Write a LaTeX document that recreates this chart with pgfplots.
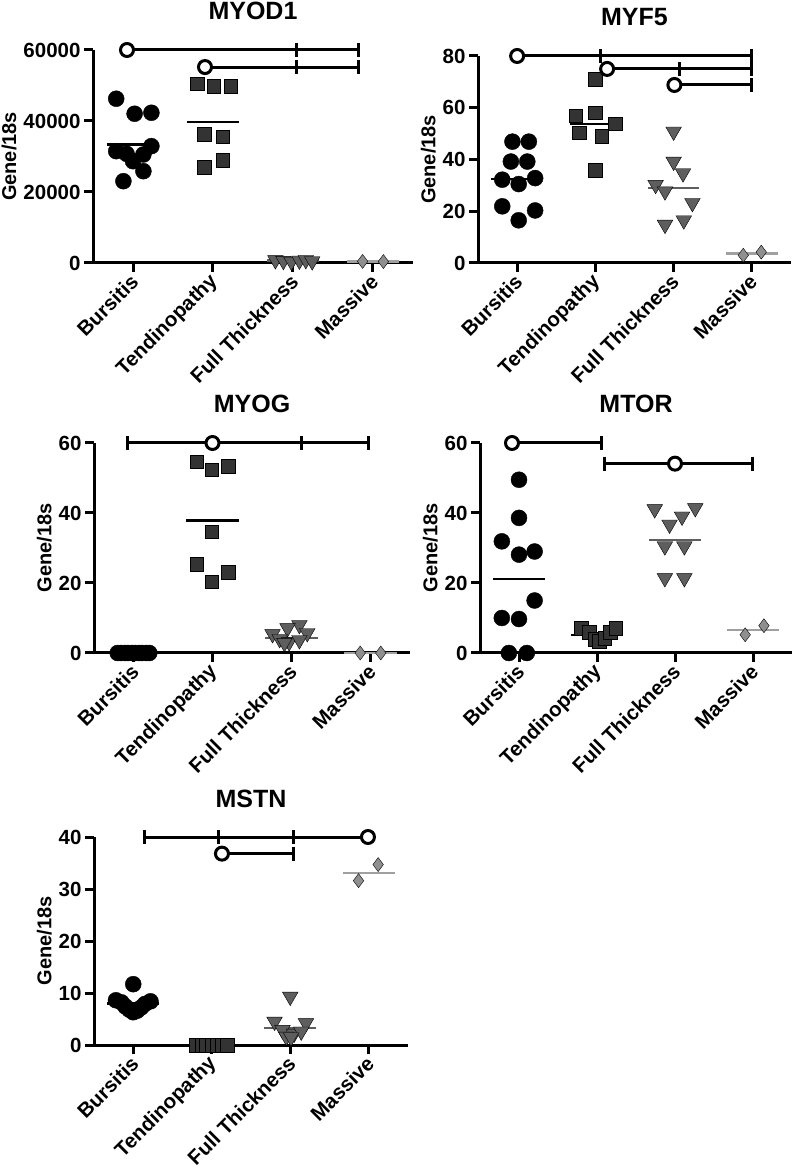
\documentclass[border=0pt]{standalone}
\usepackage{fontspec}
\setmainfont{Liberation Sans}
\usepackage{pgfplots}
\pgfplotsset{compat=1.18}

\definecolor{cten}{HTML}{333333}
\definecolor{cful}{HTML}{5E5E5E}
\definecolor{cmas}{HTML}{8F8F8F}
\definecolor{lmas}{HTML}{A0A0A0}

\pgfplotsset{
  panel/.style={
    scale only axis, clip=false, anchor=south west,
    axis x line*=bottom, axis y line*=left,
    axis line style={line width=3pt},
    tick style={line width=3pt, black},
    tick align=outside, major tick length=9pt,
    xmin=0.5, xmax=4.5, ymin=0,
    xtick={1,2,3,4},
    xticklabels={Bursitis,Tendinopathy,Full Thickness,Massive},
    xticklabel style={xshift=4pt, yshift=-4pt, rotate=45, anchor=east, font=\fontsize{20.5}{24}\selectfont\bfseries},
    yticklabel style={font=\fontsize{20.5}{24}\selectfont\bfseries},
    /pgf/number format/assume math mode=true,
    /pgf/number format/set thousands separator={},
    scaled y ticks=false,
    ylabel={Gene/18s},
    ylabel style={font=\fontsize{20}{24}\selectfont\bfseries},
    title style={font=\fontsize{25}{30}\selectfont\bfseries, anchor=base, inner sep=1pt, yshift=24pt},
  },
  bur/.style={only marks, mark=*, mark size=8pt, mark options={draw=none, fill=black}},
  ten/.style={only marks, mark=square*, mark size=6.8pt, mark options={draw=none, fill=cten}},
  ful/.style={only marks, mark=triangle*, mark size=9pt, mark options={rotate=180, draw=none, fill=cful}},
  mas/.style={only marks, mark=diamond*, mark size=7pt, mark options={draw=none, fill=cmas}},
  mean/.style={no marks, line width=2.5pt},
  sig/.style={no marks, line width=3pt, black},
  sigt/.style={only marks, mark=|, mark size=7pt, mark options={line width=3pt, black}},
  sigo/.style={only marks, mark=*, mark size=6.5pt, mark options={fill=white, draw=black, line width=3pt}},
}

\begin{document}
\begin{tikzpicture}
\useasboundingbox (0,0) rectangle (797pt,1170pt);

% MYOD1
\begin{axis}[panel, at={(93pt,907pt)}, width=320pt, height=213pt,
  ymax=60000, ytick={0,20000,40000,60000}, title={MYOD1}]
  \addplot[bur] coordinates {(0.79,46270)(1.02,42040)(1.23,42320)(1.23,32915)(0.79,31500)
    (0.92,30750)(1.0,28680)(1.13,30565)(1.13,25860)(0.88,23040)};
  \addplot[mean, black] coordinates {(0.67,33390)(1.33,33390)};
  \addplot[ten] coordinates {(1.80,50500)(2.01,49840)(2.22,49840)(1.89,36200)(2.12,35550)(2.12,28960)(1.89,26990)};
  \addplot[mean, black] coordinates {(1.67,39690)(2.33,39690)};
  \addplot[ful] coordinates {(2.78,800)(2.88,600)(2.98,400)(3.08,700)(3.16,850)(3.24,500)};
  \addplot[mean, cful] coordinates {(2.67,640)(3.33,640)};
  \addplot[mas] coordinates {(3.87,450)(4.13,400)};
  \addplot[mean, lmas] coordinates {(3.67,425)(4.33,425)};
  \addplot[sig] coordinates {(0.925,60000)(3.825,60000)};
  \addplot[sigt] coordinates {(3.05,60000)(3.825,60000)};
  \addplot[sigo] coordinates {(0.925,60000)};
  \addplot[sig] coordinates {(1.9,55200)(3.825,55200)};
  \addplot[sigt] coordinates {(3.05,55200)(3.825,55200)};
  \addplot[sigo] coordinates {(1.9,55200)};
\end{axis}

% MYF5
\begin{axis}[panel, at={(478pt,907pt)}, width=313pt, height=207pt,
  ymax=80, ytick={0,20,40,60,80}, title={MYF5}]
  \addplot[bur] coordinates {(0.94,46.9)(1.15,46.9)(0.92,39.2)(1.13,39.2)(0.81,32.2)
    (1.02,30.5)(1.23,32.8)(0.81,21.9)(1.23,20.3)(1.02,16.5)};
  \addplot[mean, black] coordinates {(0.67,32.5)(1.33,32.5)};
  \addplot[ten] coordinates {(2.0,71.0)(1.75,57.0)(2.0,58.1)(2.25,53.8)(1.79,50.4)(2.08,49.1)(2.0,35.8)};
  \addplot[mean, black] coordinates {(1.67,53.8)(2.33,53.8)};
  \addplot[ful] coordinates {(3.0,50.8)(3.0,39.2)(3.12,34.7)(2.77,30.2)(2.89,27.7)(3.24,23.2)(2.89,14.8)(3.13,16.5)};
  \addplot[mean, cful] coordinates {(2.67,28.9)(3.33,28.9)};
  \addplot[mas] coordinates {(3.89,3.0)(4.12,4.2)};
  \addplot[mean, lmas] coordinates {(3.67,3.6)(4.33,3.6)};
  \addplot[sig] coordinates {(1.0,80)(3.99,80)};
  \addplot[sigt] coordinates {(2.06,80)(3.99,80)};
  \addplot[sigo] coordinates {(1.0,80)};
  \addplot[sig] coordinates {(2.15,75)(3.99,75)};
  \addplot[sigt] coordinates {(3.08,75)(3.99,75)};
  \addplot[sigo] coordinates {(2.15,75)};
  \addplot[sig] coordinates {(3.01,68.8)(3.99,68.8)};
  \addplot[sigt] coordinates {(3.99,68.8)};
  \addplot[sigo] coordinates {(3.01,68.8)};
\end{axis}

% MYOG
\begin{axis}[panel, at={(94pt,517pt)}, width=316pt, height=210pt,
  ymax=60, ytick={0,20,40,60}, title={MYOG}]
  \addplot[bur] coordinates {(0.80,0)(0.84,0)(0.89,0)(0.93,0)(0.98,0)(1.02,0)(1.07,0)(1.11,0)(1.16,0)(1.20,0)};
  \addplot[mean, black] coordinates {(0.67,0)(1.33,0)};
  \addplot[ten] coordinates {(1.80,54.6)(1.99,52.4)(2.2,53.4)(1.99,34.7)(1.80,25.4)(2.2,23.1)(1.99,20.4)};
  \addplot[mean, black] coordinates {(1.67,37.8)(2.33,37.8)};
  \addplot[ful] coordinates {(3.10,8.0)(2.76,5.4)(2.95,7.1)(3.2,5.7)(2.85,4.0)(2.97,3.1)(2.91,2.9)(3.10,3.7)};
  \addplot[mean, cful] coordinates {(2.67,4.3)(3.33,4.3)};
  \addplot[mas] coordinates {(3.87,0)(4.13,0)};
  \addplot[mean, lmas] coordinates {(3.67,0)(4.33,0)};
  \addplot[sig] coordinates {(0.93,60)(3.98,60)};
  \addplot[sigt] coordinates {(0.93,60)(3.13,60)(3.98,60)};
  \addplot[sigo] coordinates {(2.0,60)};
\end{axis}

% MTOR
\begin{axis}[panel, at={(480pt,517pt)}, width=312pt, height=210pt,
  ymax=60, ytick={0,20,40,60}, title={MTOR}]
  \addplot[bur] coordinates {(1.0,49.5)(1.0,38.6)(0.78,31.9)(1.0,28.1)(1.2,29.0)(1.2,15.0)
    (0.78,10.0)(1.0,9.7)(0.87,0)(1.1,0)};
  \addplot[mean, black] coordinates {(0.67,21.2)(1.33,21.2)};
  \addplot[ten] coordinates {(1.8,7.0)(1.9,6.0)(1.97,4.0)(2.03,3.3)(2.1,4.2)(2.17,6.0)(2.24,7.0)};
  \addplot[mean, black] coordinates {(1.67,5.2)(2.33,5.2)};
  \addplot[ful] coordinates {(2.74,41.1)(3.26,41.4)(3.09,39.0)(2.93,36.7)(2.87,30.5)(3.12,30.5)(2.87,21.4)(3.12,21.4)};
  \addplot[mean, cful] coordinates {(2.67,32.3)(3.33,32.3)};
  \addplot[mas] coordinates {(3.9,5.2)(4.14,7.8)};
  \addplot[mean, lmas] coordinates {(3.67,6.5)(4.33,6.5)};
  \addplot[sig] coordinates {(0.91,60)(2.06,60)};
  \addplot[sigt] coordinates {(2.06,60)};
  \addplot[sigo] coordinates {(0.91,60)};
  \addplot[sig] coordinates {(2.09,54.1)(3.99,54.1)};
  \addplot[sigt] coordinates {(2.09,54.1)(3.99,54.1)};
  \addplot[sigo] coordinates {(3.0,54.1)};
\end{axis}

% MSTN
\begin{axis}[panel, at={(94pt,125pt)}, width=314pt, height=208pt,
  ymax=40, ytick={0,10,20,30,40}, title={MSTN}]
  \addplot[bur] coordinates {(1.0,11.7)(0.78,8.6)(0.85,8.2)(0.9,7.4)(0.95,6.8)(1.0,6.3)
    (1.05,6.6)(1.1,7.2)(1.15,7.9)(1.22,8.4)};
  \addplot[mean, black] coordinates {(0.67,8.0)(1.33,8.0)};
  \addplot[ten] coordinates {(1.80,0)(1.87,0)(1.93,0)(2.0,0)(2.07,0)(2.13,0)(2.20,0)};
  \addplot[mean, black] coordinates {(1.67,0)(2.33,0)};
  \addplot[ful] coordinates {(3.0,9.3)(2.8,4.5)(3.2,4.2)(2.9,2.9)(3.05,2.2)(2.95,1.6)(3.14,2.6)(3.01,1.5)};
  \addplot[mean, cful] coordinates {(2.67,3.3)(3.33,3.3)};
  \addplot[mas] coordinates {(3.87,31.6)(4.12,34.7)};
  \addplot[mean, lmas] coordinates {(3.67,33.1)(4.33,33.1)};
  \addplot[sig] coordinates {(1.14,40)(3.99,40)};
  \addplot[sigt] coordinates {(1.14,40)(2.09,40)(3.04,40)};
  \addplot[sigo] coordinates {(3.99,40)};
  \addplot[sig] coordinates {(2.13,36.8)(3.04,36.8)};
  \addplot[sigt] coordinates {(3.04,36.8)};
  \addplot[sigo] coordinates {(2.13,36.8)};
\end{axis}
\end{tikzpicture}
\end{document}
